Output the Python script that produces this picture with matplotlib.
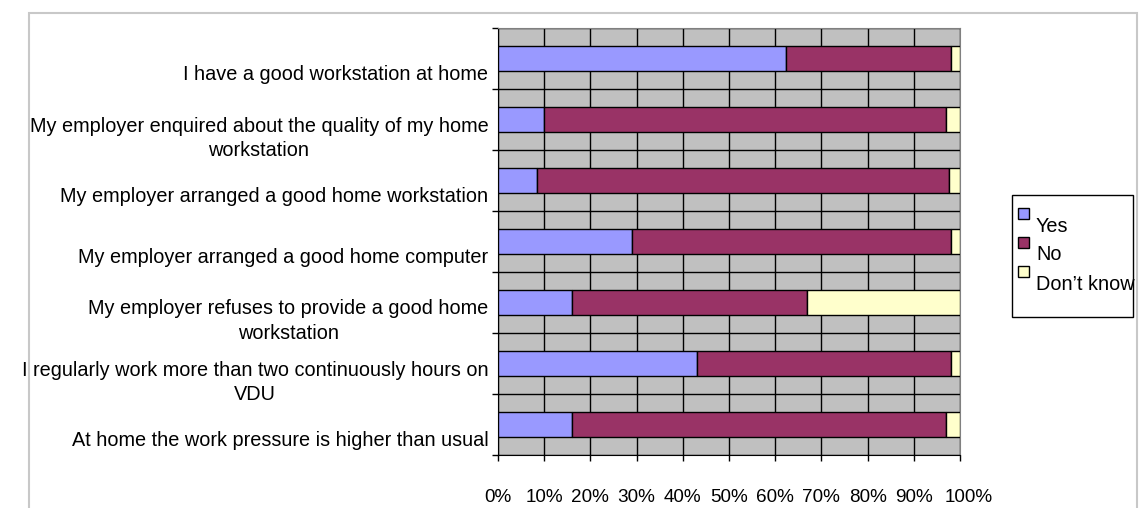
import matplotlib.pyplot as plt
import matplotlib.transforms as mtransforms
import numpy as np
from matplotlib.patches import Rectangle

plt.rcParams['font.family'] = ['Liberation Sans', 'DejaVu Sans']

categories = [
    "I have a good workstation at home",
    "My employer enquired about the quality of my home\nworkstation",
    "My employer arranged a good home workstation",
    "My employer arranged a good home computer",
    "My employer refuses to provide a good home\nworkstation",
    "I regularly work more than two continuously hours on\nVDU",
    "At home the work pressure is higher than usual",
]
yes = [62.3, 10.0, 8.4, 29.1, 16.1, 43.0, 16.1]
no = [35.7, 86.9, 89.2, 68.9, 50.7, 55.0, 80.8]
dont_know = [2.0, 3.1, 2.4, 2.0, 33.2, 2.0, 3.1]
series_names = ["Yes", "No", "Don\u2019t know"]
colors = ["#9999ff", "#993366", "#ffffcc"]
x_ticks = list(range(0, 101, 10))
x_labels = [f"{t}%" for t in x_ticks]

FS = 14.3

fig = plt.figure(figsize=(11.4, 5.08), dpi=100)
ax = fig.add_axes([498 / 1140, 1 - 455 / 508, 462 / 1140, 427 / 508])
ax.set_facecolor("#c0c0c0")

pos = np.arange(len(categories)) + 0.5
left = np.zeros(len(categories))
for vals, c in zip([yes, no, dont_know], colors):
    ax.barh(pos, vals, left=left, height=0.41, color=c, edgecolor="black",
            linewidth=1.0, zorder=3)
    left += np.array(vals)

ax.set_xlim(0, 100)
ax.set_ylim(len(categories), 0)

ax.set_xticks(x_ticks)
ax.set_xticklabels(x_labels, fontsize=13.6)
ax.tick_params(axis="x", length=4.3, width=1, pad=20.5, color="black")
# the last percentage label is nudged right so it doesn't touch 90%
nudge = mtransforms.ScaledTranslation(0.09, 0, fig.dpi_scale_trans)
last = ax.get_xticklabels()[-1]
last.set_transform(last.get_transform() + nudge)

ax.set_yticks(pos)
ax.set_yticklabels(categories, fontsize=FS, multialignment="center",
                   linespacing=1.38)
ax.tick_params(axis="y", which="major", length=0, pad=7)
ax.set_yticks(np.arange(len(categories) + 1), minor=True)
ax.tick_params(axis="y", which="minor", length=4, width=1, color="black")

# category labels sit a bit below their bars, as in the original
shift = mtransforms.ScaledTranslation(0, -0.14, fig.dpi_scale_trans)
for lab in ax.get_yticklabels():
    lab.set_transform(lab.get_transform() + shift)

ax.grid(axis="x", which="major", color="black", linewidth=1, zorder=1)
ax.grid(axis="y", which="minor", color="black", linewidth=1, zorder=1)
ax.set_axisbelow(True)

for side in ["top", "right"]:
    ax.spines[side].set_color("#808080")
ax.spines["left"].set_color("black")
ax.spines["bottom"].set_color("black")

# outer chart border
fig.add_artist(Rectangle((29 / 1140, -0.05), 1108 / 1140, 1.05 - 13 / 508,
                         transform=fig.transFigure, fill=False,
                         edgecolor="#c8c8c8", linewidth=1.5))

# legend box
fig.add_artist(Rectangle((1012 / 1140, 1 - 317 / 508), 121 / 1140, 122 / 508,
                         transform=fig.transFigure, fill=False,
                         edgecolor="black", linewidth=1))
for i, (name, c) in enumerate(zip(series_names, colors)):
    sq_top = 208 + i * 29
    fig.add_artist(Rectangle((1018 / 1140, 1 - (sq_top + 11) / 508),
                             11 / 1140, 11 / 508, transform=fig.transFigure,
                             facecolor=c, edgecolor="black", linewidth=1))
    fig.text(1036 / 1140, 1 - (sq_top + 18) / 508, name, fontsize=FS,
             va="center", ha="left")

fig.savefig("out.png")
